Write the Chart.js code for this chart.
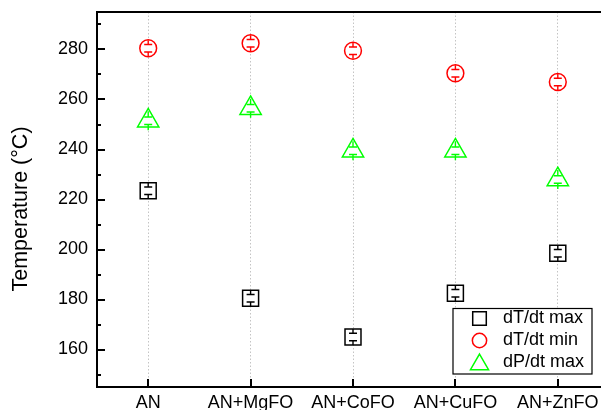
<!DOCTYPE html>
<html>
<head>
<meta charset="utf-8">
<script src="https://cdn.jsdelivr.net/npm/chart.js@4.4.1/dist/chart.umd.min.js"></script>
<style>
  html, body { margin: 0; padding: 0; background: #fff; overflow: hidden; }
  #wrap { width: 609px; height: 410px; }
</style>
</head>
<body>
<div id="wrap"><canvas id="c" width="609" height="410"></canvas></div>
<script>
// Samples and characteristic temperatures (°C) with their uncertainties
const samples = ['AN', 'AN+MgFO', 'AN+CoFO', 'AN+CuFO', 'AN+ZnFO'];
const dTdtMax    = [223.5, 180.5, 165.0, 182.5, 198.5];
const dTdtMaxErr = [1.5, 1.5, 1.5, 1.5, 1.5];
const dTdtMin    = [280.5, 282.5, 279.5, 270.5, 267.0];
const dTdtMinErr = [1.5, 1.5, 1.5, 1.5, 1.5];
const dPdtMax    = [251.5, 256.5, 239.5, 239.5, 228.0];
const dPdtMaxErr = [1.5, 1.5, 1.5, 1.5, 1.5];

const yMajorTicks = [160, 180, 200, 220, 240, 260, 280];
const yMinorTicks = [150, 170, 190, 210, 230, 250, 270, 290];
const yTitle = 'Temperature (°C)';

const FONT = 'Liberation Sans, Arial, Helvetica, sans-serif';

// Error bars: cap at ±err, stem running from the cap out to the symbol edge
const errorBars = {
  id: 'errorBars',
  afterDatasetsDraw(chart) {
    const { ctx } = chart;
    const y = chart.scales.y;
    chart.data.datasets.forEach((ds, di) => {
      const meta = chart.getDatasetMeta(di);
      ctx.save();
      ctx.strokeStyle = ds.borderColor;
      ctx.lineWidth = 1.4;
      meta.data.forEach((pt, i) => {
        const v = ds.data[i];
        const e = ds.errors[i];
        const yc = pt.y;
        const yHi = y.getPixelForValue(v + e);
        const yLo = y.getPixelForValue(v - e);
        const cap = 4;
        const reach = ds.errStem;
        ctx.beginPath();
        ctx.moveTo(pt.x - cap, yHi); ctx.lineTo(pt.x + cap, yHi);
        ctx.moveTo(pt.x - cap, yLo); ctx.lineTo(pt.x + cap, yLo);
        ctx.moveTo(pt.x, yHi); ctx.lineTo(pt.x, yc - reach);
        ctx.moveTo(pt.x, yLo); ctx.lineTo(pt.x, yc + reach);
        ctx.stroke();
      });
      ctx.restore();
    });
  }
};

// Frame line on top, inward-pointing tick marks and the vertical axis title
const frameTicks = {
  id: 'frameTicks',
  afterDraw(chart) {
    const { ctx, chartArea: { left, right, top, bottom } } = chart;
    const x = chart.scales.x, y = chart.scales.y;
    ctx.save();
    ctx.strokeStyle = '#000';
    ctx.lineWidth = 2;
    ctx.beginPath();
    ctx.moveTo(left - 1, top); ctx.lineTo(right, top);
    yMajorTicks.forEach(v => {
      const py = Math.round(y.getPixelForValue(v));
      ctx.moveTo(left, py); ctx.lineTo(left + 8, py);
    });
    yMinorTicks.forEach(v => {
      const py = Math.round(y.getPixelForValue(v));
      ctx.moveTo(left, py); ctx.lineTo(left + 4, py);
    });
    samples.forEach((s, i) => {
      const px = Math.round(x.getPixelForValue(i));
      ctx.moveTo(px, bottom); ctx.lineTo(px, bottom - 8);
    });
    ctx.stroke();

    // axis title, rotated, a little below the middle of the axis
    ctx.translate(21, y.getPixelForValue(216.2));
    ctx.rotate(-Math.PI / 2);
    ctx.fillStyle = '#000';
    ctx.font = '21.5px ' + FONT;
    ctx.textAlign = 'center';
    ctx.textBaseline = 'middle';
    ctx.fillText(yTitle, 0, 0);
    ctx.restore();
  }
};

// Boxed legend inside the plot, lower right
const boxLegend = {
  id: 'boxLegend',
  afterDraw(chart, args, opts) {
    const { ctx } = chart;
    const { x0, y0, w, h, symX, textX, rowY, rowGap, scale } = opts;
    ctx.save();
    ctx.fillStyle = '#fff';
    ctx.fillRect(x0, y0, w, h);
    ctx.strokeStyle = '#000';
    ctx.lineWidth = 1.2;
    ctx.strokeRect(x0, y0, w, h);
    chart.data.datasets.forEach((ds, i) => {
      const cy = rowY + i * rowGap;
      ctx.strokeStyle = ds.borderColor;
      ctx.fillStyle = '#fff';
      ctx.lineWidth = ds.pointBorderWidth;
      Chart.helpers.drawPoint(ctx, {
        pointStyle: ds.pointStyle,
        radius: ds.pointRadius * scale,
        borderWidth: ds.pointBorderWidth,
        rotation: 0
      }, symX, cy + (ds.pointStyle === 'triangle' ? 2 : 0));
      ctx.fillStyle = '#000';
      ctx.font = '18px ' + FONT;
      ctx.textBaseline = 'middle';
      ctx.textAlign = 'left';
      ctx.fillText(ds.label, textX, cy);
    });
    ctx.restore();
  }
};

new Chart(document.getElementById('c'), {
  type: 'line',
  data: {
    labels: samples,
    datasets: [
      {
        label: 'dT/dt max', data: dTdtMax, errors: dTdtMaxErr, errStem: 8,
        borderColor: '#000000', pointStyle: 'rect', pointRadius: 11.3,
        pointBorderWidth: 1.5, pointBackgroundColor: '#fff', showLine: false
      },
      {
        label: 'dT/dt min', data: dTdtMin, errors: dTdtMinErr, errStem: 8,
        borderColor: '#ff0000', pointStyle: 'circle', pointRadius: 8.4,
        pointBorderWidth: 1.5, pointBackgroundColor: '#fff', showLine: false
      },
      {
        label: 'dP/dt max', data: dPdtMax, errors: dPdtMaxErr, errStem: 9.5,
        borderColor: '#00ff00', pointStyle: 'triangle', pointRadius: 12.3,
        pointBorderWidth: 1.5, pointBackgroundColor: '#fff', showLine: false
      }
    ]
  },
  options: {
    responsive: false,
    animation: false,
    events: [],
    layout: { autoPadding: false, padding: { left: 0, right: 0, top: 12, bottom: 0 } },
    plugins: {
      legend: { display: false },
      tooltip: { enabled: false },
      boxLegend: { x0: 453, y0: 308.5, w: 139, h: 65.5, symX: 479.5, textX: 503, rowY: 318.5, rowGap: 22, scale: 0.85 }
    },
    scales: {
      x: {
        type: 'category',
        offset: true,
        grid: { display: true, offset: false, drawTicks: false, color: '#c4c4c4', lineWidth: 1 },
        border: { display: true, color: '#000', width: 2, dash: [1.5, 2] },
        ticks: { color: '#000', padding: 5, font: { family: FONT, size: 18 }, maxRotation: 0, autoSkip: false },
        afterFit(scale) { scale.height = 23; scale.paddingLeft = 0; scale.paddingRight = 0; }
      },
      y: {
        min: 145, max: 295,
        grid: { display: false, drawTicks: false },
        border: { display: true, color: '#000', width: 2 },
        afterBuildTicks(scale) { scale.ticks = yMajorTicks.map(v => ({ value: v })); },
        ticks: { color: '#000', padding: 9, font: { family: FONT, size: 18 } },
        title: { display: false },
        afterFit(scale) { scale.width = 97; scale.paddingTop = 0; scale.paddingBottom = 0; }
      }
    }
  },
  plugins: [errorBars, frameTicks, boxLegend]
});
</script>
</body>
</html>
